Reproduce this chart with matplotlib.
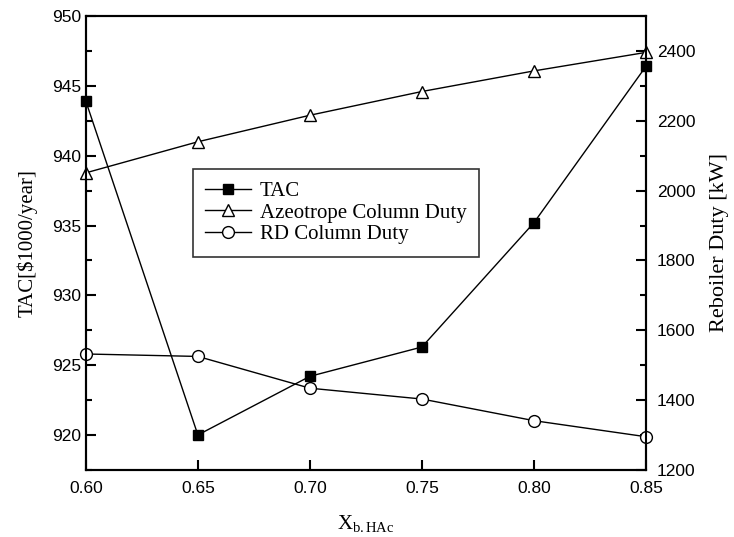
import numpy as np
import matplotlib.pyplot as plt
from matplotlib.ticker import MultipleLocator

plt.rcParams['mathtext.fontset'] = 'custom'
plt.rcParams['mathtext.rm'] = 'Liberation Serif'
plt.rcParams['mathtext.it'] = 'Liberation Serif:italic'

# data
x_hac = [0.60, 0.65, 0.70, 0.75, 0.80, 0.85]
tac = [943.9, 920.0, 924.2, 926.3, 935.2, 946.4]          # left axis
azeo_duty = [2051, 2140, 2216, 2284, 2343, 2396]          # right axis
rd_duty = [1532, 1525, 1434, 1403, 1341, 1295]            # right axis

serif = 'Liberation Serif'
sans = 'Liberation Sans'

fig = plt.figure(figsize=(7.34, 5.37), dpi=100)
ax = fig.add_axes([0.117, 0.125, 0.763, 0.845])
ax2 = ax.twinx()

l1, = ax.plot(x_hac, tac, '-', color='black', lw=1.0, marker='s',
              ms=7, mfc='black', mec='black', label='TAC')
l2, = ax2.plot(x_hac, azeo_duty, '-', color='black', lw=1.0, marker='^',
               ms=9, mfc='white', mec='black', mew=1.0,
               label='Azeotrope Column Duty')
l3, = ax2.plot(x_hac, rd_duty, '-', color='black', lw=1.0, marker='o',
               ms=8.5, mfc='white', mec='black', mew=1.0,
               label='RD Column Duty')
for l in (l1, l2, l3):
    l.set_clip_on(False)

ax.set_xlim(0.60, 0.85)
ax.set_ylim(917.5, 950)
ax2.set_ylim(1200, 2500)

ax.set_xticks(x_hac)
ax.set_xticklabels(['%.2f' % v for v in x_hac])
ax.yaxis.set_major_locator(MultipleLocator(5))
ax.yaxis.set_minor_locator(MultipleLocator(2.5))
ax2.yaxis.set_major_locator(MultipleLocator(200))
ax2.yaxis.set_minor_locator(MultipleLocator(100))
ax2.set_yticks([1200, 1400, 1600, 1800, 2000, 2200, 2400])

ax.tick_params(axis='both', which='both', direction='in', top=False, right=False)
ax.tick_params(which='major', length=7, width=1.5, labelsize=12.5)
ax.tick_params(which='minor', length=4, width=1.5)
ax2.tick_params(which='both', direction='in')
ax2.tick_params(which='major', length=7, width=1.5, labelsize=12.5, pad=8)
ax2.tick_params(which='minor', length=4, width=1.5)
ax.tick_params(axis='x', pad=8)
for a in (ax, ax2):
    for lab in a.get_xticklabels() + a.get_yticklabels():
        lab.set_fontfamily(sans)
    for s in a.spines.values():
        s.set_linewidth(1.5)

ax.set_xlabel(r'X$_{\mathrm{b.HAc}}$', fontsize=15, family=serif, labelpad=12)
ax.set_ylabel('TAC[\\$1000/year]', fontsize=15, family=serif, labelpad=10)
ax2.set_ylabel('Reboiler Duty [kW]', fontsize=16, family=serif, labelpad=10)

leg = ax.legend(handles=[l1, l2, l3], loc='upper left',
                bbox_to_anchor=(0.191, 0.663), frameon=True, fancybox=False,
                prop={'family': serif, 'size': 15}, handlelength=2.2,
                handletextpad=0.4, borderpad=0.6, labelspacing=0.1,
                borderaxespad=0)
leg.get_frame().set_edgecolor('black')
leg.get_frame().set_linewidth(1.2)
leg.set_zorder(1)

fig.savefig('out.png', dpi=100)
